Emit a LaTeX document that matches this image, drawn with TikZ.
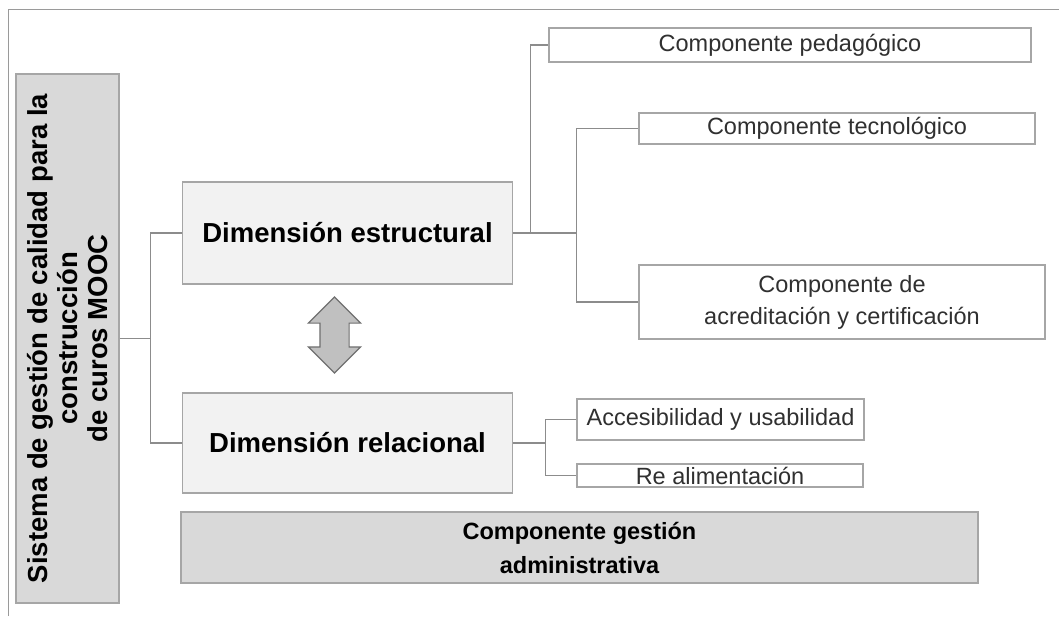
\documentclass[tikz,border=0pt]{standalone}
\usepackage{fontspec}
\setmainfont{Liberation Sans}
\usetikzlibrary{shapes.arrows}

\definecolor{frameline}{HTML}{9A9A9A}
\definecolor{boxline}{HTML}{A6A6A6}
\definecolor{wire}{HTML}{8C8C8C}
\definecolor{darkfill}{HTML}{D9D9D9}
\definecolor{lightfill}{HTML}{F2F2F2}
\definecolor{arrowfill}{HTML}{C0C0C0}
\definecolor{arrowline}{HTML}{707070}
\definecolor{txt}{HTML}{303030}

\begin{document}
\begin{tikzpicture}[x=1pt, y=-1pt]
   \useasboundingbox (0,0) rectangle (1059,616);
   \tikzset{BoxStyle/.style={draw=boxline, line width=1.2pt, inner sep=0pt, align=center}}
   \tikzset{DimStyle/.style={BoxStyle, fill=lightfill, text=black, font=\fontsize{27.5}{30}\selectfont\bfseries}}
   \tikzset{CompStyle/.style={BoxStyle, fill=white, text=txt, font=\fontsize{23.5}{32}\selectfont}}
   \tikzset{LinkStyle/.style={draw=wire, line width=1.2pt}}
   \draw[frameline, line width=0.9pt] (8,616) -- (8,9) -- (1059,9);
   \node[DimStyle, fill=darkfill, rotate=90, minimum width=529pt, minimum height=103pt] (sys) at (67.5,338.5)
      {Sistema de gestión de calidad para la\\construcción\\de curos MOOC};
   \node[DimStyle, minimum width=330pt, minimum height=102pt] (dimE) at (347.5,233) {Dimensión estructural};
   \node[DimStyle, minimum width=330pt, minimum height=100pt] (dimR) at (347.5,443) {Dimensión relacional};
   \node[DimStyle, fill=darkfill, minimum width=797pt, minimum height=71pt, font=\fontsize{23.5}{34}\selectfont\bfseries] (gest) at (579.5,547.5)
      {Componente gestión\\administrativa};
   \node[CompStyle, minimum width=482pt, minimum height=34pt] (ped) at (790,45) {Componente pedagógico};
   \node[CompStyle, minimum width=396pt, minimum height=31pt] (tec) at (837,128.5) {Componente tecnológico};
   \node[CompStyle, minimum width=406pt, minimum height=74pt] (acr) at (842,302)
      {Componente de\\acreditación y certificación};
   \node[CompStyle, minimum width=287pt, minimum height=41pt] (acc) at (720.5,419.5) {Accesibilidad y usabilidad};
   \node[CompStyle, minimum width=286pt, minimum height=23pt] (ret) at (720,475.5) {Re alimentación};
   \node[double arrow, draw=arrowline, fill=arrowfill, line width=1.2pt, rotate=90,
      minimum height=76pt, minimum width=51pt, double arrow head extend=11.5pt,
      inner xsep=0pt, inner ysep=14pt] (rel) at (334.5,335) {};
   \draw[LinkStyle] (sys.south) -- ++(31,0) coordinate (j0) |- (dimE.west);
   \draw[LinkStyle] (j0) |- (dimR.west);
   \draw[LinkStyle] (dimE.east) -- ++(17.5,0) coordinate (j1) |- (ped.west);
   \draw[LinkStyle] (j1) -- ++(46,0) coordinate (j2) |- (tec.west);
   \draw[LinkStyle] (j2) |- (acr.west);
   \draw[LinkStyle] (dimR.east) -- ++(32.5,0) coordinate (j3) |- (acc.west);
   \draw[LinkStyle] (j3) |- (ret.west);
\end{tikzpicture}
\end{document}
